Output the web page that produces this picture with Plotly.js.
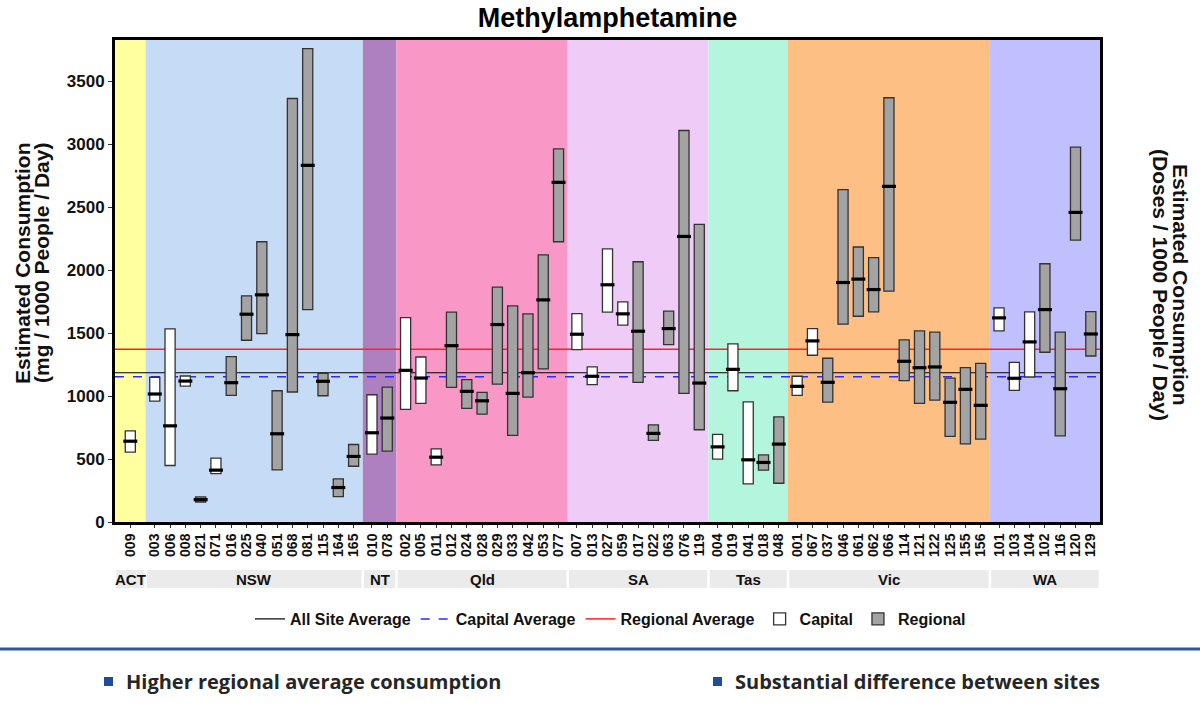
<!DOCTYPE html>
<html>
<head>
<meta charset="utf-8">
<script src="https://cdn.plot.ly/plotly-3.0.1.min.js"></script>
<style>html,body{margin:0;padding:0;background:#fff;}#chart{width:1200px;height:711px;}</style>
</head>
<body>
<div id="chart"></div>
<script>
// ---- data ----
const groups = ['ACT','NSW','NT','Qld','SA','Tas','Vic','WA'];
const groupColors = ['#FFFFA0','#C6DCF6','#AF80C0','#F998C6','#EFCBF7','#B4F6DD','#FDBF84','#C0C0FE'];
const sites = ['009',
  '003','006','008','021','071','016','025','040','051','068','081','115','164','165',
  '010','078',
  '002','005','011','012','024','028','029','033','042','053','077',
  '007','013','027','059','017','022','063','076','119',
  '004','019','041','018','048',
  '001','067','037','046','061','062','066','114','121','122','125','155','156',
  '101','103','104','102','116','120','129'];
const siteGroup = ['ACT',
  'NSW','NSW','NSW','NSW','NSW','NSW','NSW','NSW','NSW','NSW','NSW','NSW','NSW','NSW',
  'NT','NT',
  'Qld','Qld','Qld','Qld','Qld','Qld','Qld','Qld','Qld','Qld','Qld',
  'SA','SA','SA','SA','SA','SA','SA','SA','SA',
  'Tas','Tas','Tas','Tas','Tas',
  'Vic','Vic','Vic','Vic','Vic','Vic','Vic','Vic','Vic','Vic','Vic','Vic','Vic',
  'WA','WA','WA','WA','WA','WA','WA'];
const siteType = ['C',
  'C','C','C','R','C','R','R','R','R','R','R','R','R','R',
  'C','R',
  'C','C','C','R','R','R','R','R','R','R','R',
  'C','C','C','C','R','R','R','R','R',
  'C','C','C','R','R',
  'C','C','R','R','R','R','R','R','R','R','R','R','R',
  'C','C','C','R','R','R','R'];
const lowVals = [555,
  961,449,1080,159,385,1006,1444,1497,414,1033,1688,1003,202,443,
  539,563,
  895,943,454,1070,903,857,1096,688,993,1216,2227,
  1369,1091,1667,1564,1110,648,1409,1022,733,
  499,1043,303,412,308,
  1006,1325,953,1572,1635,1670,1834,1123,943,969,680,621,658,
  1518,1046,1152,1349,685,2240,1319];
const medVals = [642,
  1017,764,1120,178,412,1107,1651,1805,701,1489,2834,1118,274,521,
  709,826,
  1205,1144,515,1401,1038,963,1569,1022,1186,1765,2699,
  1492,1158,1885,1654,1516,704,1537,2269,1104,
  597,1213,494,473,619,
  1078,1439,1110,1903,1930,1847,2667,1277,1226,1232,951,1054,927,
  1622,1142,1431,1688,1059,2460,1494];
const highVals = [724,
  1150,1534,1160,199,507,1314,1797,2227,1043,3365,3761,1181,342,616,
  1011,1072,
  1624,1311,581,1667,1131,1030,1866,1717,1654,2123,2965,
  1656,1232,2171,1749,2068,772,1675,3111,2365,
  696,1415,955,533,836,
  1158,1537,1301,2641,2185,2100,3371,1447,1518,1508,1144,1226,1261,
  1701,1269,1670,2052,1508,2978,1672];
const avgNames = ['All Site Average','Capital Average','Regional Average'];
const avgVals = [1186, 1154, 1372];
const mgPerDose = 30;
const leftTicks = [0,500,1000,1500,2000,2500,3000,3500];
const rightTicks = [0,10,20,30,40,50,60,70,80,90,100,110,120];

// ---- layout helpers ----
const W = 1200, H = 711, mL = 115, mR = 100, mT = 40, mB = 189;
const pw = W - mL - mR, ph = H - mT - mB;
const px2x = p => (p - mL) / pw;
const py2y = p => (H - mB - p) / ph;

// positions: sites spaced 1 unit, groups padded
const xPos = [];
const bands = [];
let cursor = 0;
groups.forEach((g) => {
  const idx = siteGroup.map((s,i)=>s===g?i:-1).filter(i=>i>=0);
  const n = idx.length;
  const width = Math.max(n + 0.2, 2);
  const off = (width - (n - 1)) / 2;
  idx.forEach((i,k)=>{ xPos[i] = cursor + off + k; });
  bands.push([cursor, cursor + width]);
  cursor += width;
});
const xMax = cursor;
const yMax = 3830;

const pick = (arr, t) => arr.filter((v,i)=>siteType[i]===t);
const font = 'Liberation Sans, Arial, sans-serif';

const traces = [];
[['C','Capital','#FFFFFF',4],['R','Regional','#A3A3A3',5]].forEach(([t,name,fill,rank])=>{
  traces.push({
    type:'box', name:name, x: pick(xPos,t), q1: pick(lowVals,t), median: pick(medVals,t),
    q3: pick(highVals,t), lowerfence: pick(lowVals,t), upperfence: pick(highVals,t),
    fillcolor: fill, line:{color:'#333333', width:1.3}, width:0.66, whiskerwidth:0,
    boxpoints:false, hoverinfo:'skip', legendrank:rank
  });
});
traces.push({
  type:'scatter', mode:'markers', x: xPos, y: medVals, showlegend:false, hoverinfo:'skip',
  marker:{symbol:'line-ew', size:10, color:'#000', line:{color:'#000', width:3.2}}
});

const shapes = [];
groups.forEach((g,gi)=>{
  shapes.push({type:'rect', xref:'x', yref:'paper', x0:bands[gi][0], x1:bands[gi][1], y0:0, y1:1,
    fillcolor:groupColors[gi], line:{width:0}, layer:'below'});
});
const avgStyles = [{color:'#000000', width:1.2, dash:'solid'},{color:'#2B2BFF', width:1.5, dash:'dash'},{color:'#FF2020', width:1.5, dash:'solid'}];
avgVals.forEach((v,i)=>{
  shapes.push({type:'line', xref:'paper', yref:'y', x0:0, x1:1, y0:v, y1:v, layer:'below',
    line:avgStyles[i], showlegend:true, name:avgNames[i], legendrank:i+1});
});
// strip boxes
groups.forEach((g,gi)=>{
  shapes.push({type:'rect', xref:'x', yref:'paper', x0:bands[gi][0]+0.08, x1:bands[gi][1]-0.08,
    y0:py2y(588), y1:py2y(570), fillcolor:'#EBEBEB', line:{width:0}});
});
// separator line
shapes.push({type:'line', xref:'paper', yref:'paper', x0:px2x(0), x1:px2x(1200), y0:py2y(649), y1:py2y(649),
  line:{color:'#2F5A9C', width:3}});
// bullets
[[104,113],[713,722]].forEach(([a,b])=>{
  shapes.push({type:'rect', xref:'paper', yref:'paper', x0:px2x(a), x1:px2x(b), y0:py2y(686), y1:py2y(677),
    fillcolor:'#1F4E99', line:{width:0}});
});

const annotations = [];
groups.forEach((g,gi)=>{
  annotations.push({xref:'x', yref:'paper', x:(bands[gi][0]+bands[gi][1])/2, y:py2y(579), text:'<b>'+g+'</b>',
    showarrow:false, font:{family:font, size:15, color:'#111'}, xanchor:'center', yanchor:'middle'});
});
const titleFont = {family:font, size:21, color:'#111'};
annotations.push({xref:'paper', yref:'paper', x:px2x(22), y:py2y(263), textangle:-90,
  text:'<b>Estimated Consumption</b>', showarrow:false, font:titleFont, xanchor:'center', yanchor:'middle'});
annotations.push({xref:'paper', yref:'paper', x:px2x(41), y:py2y(263), textangle:-90,
  text:'<b>(mg / 1000 People / Day)</b>', showarrow:false, font:titleFont, xanchor:'center', yanchor:'middle'});
annotations.push({xref:'paper', yref:'paper', x:px2x(1181), y:py2y(285), textangle:90,
  text:'<b>Estimated Consumption</b>', showarrow:false, font:titleFont, xanchor:'center', yanchor:'middle'});
annotations.push({xref:'paper', yref:'paper', x:px2x(1161), y:py2y(285), textangle:90,
  text:'<b>(Doses / 1000 People / Day)</b>', showarrow:false, font:titleFont, xanchor:'center', yanchor:'middle'});
annotations.push({xref:'paper', yref:'paper', x:px2x(124), y:py2y(681), xanchor:'left', yanchor:'middle',
  text:'<b>Higher regional average consumption</b>', showarrow:false,
  font:{family:'Open Sans, sans-serif', size:20, color:'#262626'}});
annotations.push({xref:'paper', yref:'paper', x:px2x(733), y:py2y(681), xanchor:'left', yanchor:'middle',
  text:'<b>Substantial difference between sites</b>', showarrow:false,
  font:{family:'Open Sans, sans-serif', size:20, color:'#262626'}});

const layout = {
  width:W, height:H, margin:{l:mL, r:mR, t:mT, b:mB, pad:0},
  paper_bgcolor:'#fff', plot_bgcolor:'rgba(0,0,0,0)',
  title:{text:'<b>Methylamphetamine</b>', x:0.5, xref:'paper', y:0.975, yref:'container', yanchor:'middle',
    font:{family:font, size:27, color:'#000'}},
  xaxis:{range:[0,xMax], tickvals:xPos, ticktext:sites, tickangle:-90, ticks:'outside', ticklen:3,
    tickcolor:'#333', tickfont:{family:font, size:14, color:'#111', weight:'bold'}, showgrid:false, zeroline:false,
    showline:true, mirror:true, linewidth:3, linecolor:'#000'},
  yaxis:{range:[0,yMax], tickvals:leftTicks, ticks:'outside', ticklen:4, tickcolor:'#333',
    tickfont:{family:font, size:17, color:'#111', weight:'bold'}, showgrid:false, zeroline:false,
    showline:true, mirror:true, linewidth:3, linecolor:'#000'},
  yaxis2:{overlaying:'y', side:'right', anchor:'x', range:[0,yMax/mgPerDose], tickvals:rightTicks, ticks:'outside',
    ticklen:4, tickcolor:'#333', tickfont:{family:font, size:17, color:'#111', weight:'bold'}, showgrid:false, zeroline:false, showline:false},
  boxmode:'overlay',
  showlegend:true,
  legend:{orientation:'h', x:0.503, xanchor:'center', y:py2y(619), yanchor:'middle', bgcolor:'rgba(0,0,0,0)',
    font:{family:font, size:16, color:'#111', weight:'bold'}, traceorder:'normal', itemwidth:30},
  shapes:shapes, annotations:annotations
};
Plotly.newPlot('chart', traces, layout, {staticPlot:true});
</script>
</body>
</html>
